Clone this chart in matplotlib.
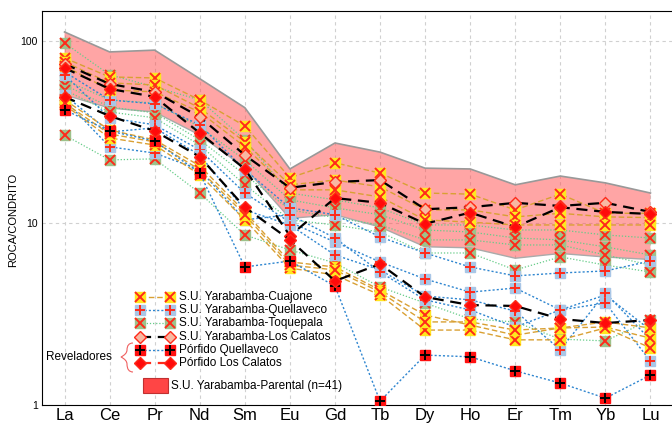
import numpy as np
import matplotlib
matplotlib.use("Agg")
import matplotlib.pyplot as plt
from matplotlib.patches import Rectangle, PathPatch
from matplotlib.path import Path

plt.rcParams["font.family"] = ["Liberation Sans", "DejaVu Sans"]

# ---------- data (normalised to chondrite) ----------
ree = ["La", "Ce", "Pr", "Nd", "Sm", "Eu", "Gd", "Tb", "Dy", "Ho", "Er", "Tm", "Yb", "Lu"]

parental_max = [112, 87, 89, 62, 43, 19.8, 27.5, 24.5, 20, 19.8, 16.2, 18.1, 16.6, 14.6]
parental_min = [50.5, 42.8, 40.7, 30.4, 20.1, 10.6, 11.1, 9.5, 7.4, 7.3, 6.4, 6.8, 6.5, 6.3]

cuajone = [
    [80.6, 63.4, 62.6, 47.4, 34.1, 17.7, 21.4, 18.8, 14.6, 14.4, 11.8, 14.4, 11.3, 11.3],
    [76.7, 58.8, 57.3, 42.8, 27.9, 16.2, 17.2, 15.8, 11.8, 11.8, 10.8, 11.3, 10.8, 10.7],
    [72.9, 53.8, 52.5, 40.7, 26.2, 15.2, 15.2, 13.9, 10.4, 10.1, 9.75, 9.75, 9.75, 9.75],
    [47.4, 32.4, 28.6, 20.6, 11.5, 6.11, 5.73, 4.28, 3.12, 2.75, 2.42, 2.65, 2.68, 2.33],
    [44.5, 29.3, 26.8, 18.4, 10.4, 5.65, 5.18, 4.02, 2.58, 2.58, 2.28, 2.28, 2.65, 2.06],
    [45.6, 30.8, 27.9, 19.6, 11.1, 5.87, 5.52, 4.17, 2.86, 2.86, 2.58, 2.65, 2.86, 2.65],
]
quellaveco = [
    [67.6, 47.4, 45.1, 34.6, 19.6, 12.1, 11.1, 8.38, 6.84, 5.73, 5.12, 5.31, 5.45, 6.18],
    [65.1, 37.8, 34.6, 25.2, 14.6, 10.1, 7.86, 6.11, 4.92, 4.17, 4.39, 3.33, 4.02, 2.58],
    [50.5, 31.6, 33.3, 23.6, 11.8, 9.75, 6.67, 5.52, 3.97, 3.78, 3.28, 2.01, 4.12, 2.28],
    [47.4, 26.2, 24.2, 19.6, 10.4, 11.1, 8.27, 5.38, 3.78, 3.33, 2.68, 3.33, 3.63, 1.74],
]
toquepala = [
    [97.5, 65.1, 55.9, 47.4, 28.6, 14.6, 13.4, 12.1, 9.75, 9.75, 9.15, 9.15, 8.59, 8.27],
    [61.1, 47.4, 45.6, 33.7, 22.2, 13.4, 12.1, 11.1, 9.15, 8.92, 8.27, 8.07, 7.39, 6.67],
    [57.3, 43.4, 40.2, 28.6, 18.4, 11.8, 10.7, 9.75, 8.07, 8.07, 7.57, 7.57, 6.67, 5.87],
    [53.8, 40.7, 37.8, 26.8, 16.2, 10.4, 9.75, 8.92, 6.84, 6.84, 5.52, 6.51, 5.87, 5.38],
    [30.4, 22.2, 22.5, 14.6, 8.59, 7.11, 6.03, 4.45, 3.63, 2.97, 2.86, 2.30, 2.25, 2.93],
]
los_calatos = [
    [74.8, 58.0, 52.5, 38.2, 23.6, 15.6, 16.8, 17.2, 11.9, 12.2, 12.9, 12.4, 12.9, 11.5],
]
porfido_quellaveco = [
    [41.8, 32.0, 28.2, 18.8, 5.73, 6.18, 4.5, 1.05, 1.88, 1.84, 1.54, 1.32, 1.09, 1.46],
]
porfido_calatos = [
    [71.0, 54.5, 49.3, 31.2, 19.8, 8.5, 13.7, 12.9, 9.9, 11.4, 9.5, 12.2, 11.5, 11.2],
    [49.3, 38.7, 32.0, 23.1, 12.2, 8.07, 4.8, 5.95, 3.92, 3.54, 3.5, 2.97, 2.82, 2.93],
]

labels = ["S.U. Yarabamba-Cuajone", "S.U. Yarabamba-Quellaveco",
          "S.U. Yarabamba-Toquepala", "S.U. Yarabamba-Los Calatos",
          "Pórfido Quellaveco", "Pórfido Los Calatos"]

x = np.arange(len(ree))

# ---------- styles ----------
RED = "#ff2a1a"
styles = {
    "cuajone": dict(color="#d9a033", ls=(0, (4, 2)), lw=1.0, mk="s", face="#ffe81f",
                    top="x", topc=RED),
    "quellaveco": dict(color="#2f86d0", ls=(0, (1.5, 1.5)), lw=1.0, mk="s", face="#a9c6e6",
                       top="+", topc=RED),
    "toquepala": dict(color="#66cc88", ls=(0, (1, 1.5)), lw=0.9, mk="s", face="#9dc28a",
                      top="x", topc=RED),
    "calatos": dict(color="black", ls=(0, (5, 3)), lw=1.6, mk="D", face="#f8b8a2",
                    top=None, topc=None),
    "pq": dict(color="#2f86d0", ls=(0, (1.5, 1.5)), lw=1.0, mk="s", face="#ff1010",
               top="+", topc="black"),
    "plc": dict(color="black", ls=(0, (5, 3)), lw=1.6, mk="D", face="#ff0a0a",
                top=None, topc=None),
}


def draw(ax, xs, vals, st, color=None, **kw):
    ms = 7.0 if st["mk"] == "s" else 5.8
    mec = RED if st["mk"] == "D" else st["face"]
    ax.plot(xs, vals, color=color or st["color"], ls=st["ls"], lw=st["lw"],
            marker=st["mk"], ms=ms, mfc=st["face"], mec=mec, mew=1.0, zorder=3, **kw)
    if st["top"]:
        ax.plot(xs, vals, ls="none", marker=st["top"], ms=6.5, color=st["topc"],
                mew=1.4, zorder=3, **kw)


fig = plt.figure(figsize=(6.72, 4.23), dpi=100)
ax = fig.add_axes([42 / 672, 18 / 423, 631 / 672, 394 / 423])

ax.fill_between(x, parental_min, parental_max, facecolor="#ff4d4d", alpha=0.5,
                edgecolor="none", zorder=1)
ax.plot(x, parental_max, color="#999999", lw=1.2, zorder=1.5)
ax.plot(x, parental_min, color="#aaaaaa", lw=1.0, zorder=1.5)

for v in toquepala:
    draw(ax, x, v, styles["toquepala"])
for v in quellaveco:
    draw(ax, x, v, styles["quellaveco"])
for v in cuajone:
    draw(ax, x, v, styles["cuajone"])
for v in porfido_quellaveco:
    draw(ax, x, v, styles["pq"])
for v in los_calatos:
    draw(ax, x, v, styles["calatos"])
for v in porfido_calatos:
    draw(ax, x, v, styles["plc"])

ax.set_yscale("log")
ax.set_ylim(1, 146)
ax.set_xlim(-0.5, 13.5)
ax.set_xticks(x)
ax.set_xticklabels(ree, fontsize=12)
ax.set_yticks([1, 10, 100])
ax.set_yticklabels(["1", "10", "100"], fontsize=7.5)
ax.yaxis.set_minor_locator(matplotlib.ticker.NullLocator())
ax.tick_params(length=0, pad=3)
ax.tick_params(axis="x", pad=2)
ax.grid(True, color="#d0d0d0", ls=(0, (3, 3)), lw=0.8)
ax.set_axisbelow(True)
ax.set_ylabel("ROCA/CONDRITO", fontsize=8)
ax.yaxis.set_label_coords(-0.038, 0.47)
ax.spines["right"].set_visible(False)


# ---------- key (drawn in axes fraction) ----------
def fx(px):
    return (px - 42) / 631


def fy(py):
    return (405 - py) / 394


key_styles = [styles["cuajone"], styles["quellaveco"], styles["toquepala"],
              styles["calatos"], styles["pq"], styles["plc"]]
row_y = [297, 310, 323, 337, 350, 363]
for st, lab, py in zip(key_styles, labels, row_y):
    col = RED if st is styles["plc"] else None
    draw(ax, [fx(140), fx(170)], [fy(py), fy(py)], st, color=col,
         transform=ax.transAxes)
    ax.text(fx(179), fy(py), lab, transform=ax.transAxes, fontsize=8.5,
            ha="left", va="center")

ax.add_patch(Rectangle((fx(143), fy(393)), fx(168) - fx(143), fy(378) - fy(393),
                       transform=ax.transAxes, facecolor="#ff4545",
                       edgecolor="#c03030", lw=0.8, zorder=4))
ax.text(fx(171), fy(386), "S.U. Yarabamba-Parental (n=41)", transform=ax.transAxes,
        fontsize=8.5, ha="left", va="center")

ax.text(fx(79), fy(357), "Reveladores", transform=ax.transAxes, fontsize=8.5,
        ha="center", va="center")

# curly brace grouping the two porphyry entries
bx = np.array([133, 127, 127, 127, 121, 127, 127, 127, 133])
by = np.array([343, 343, 350, 354, 357, 360, 364, 372, 372])
verts = list(zip(fx(bx), fy(by)))
codes = [Path.MOVETO] + [Path.CURVE3] * 8
ax.add_patch(PathPatch(Path(verts, codes), transform=ax.transAxes, fill=False,
                       edgecolor="#f06060", lw=0.8))

fig.savefig("out.png", dpi=100)
